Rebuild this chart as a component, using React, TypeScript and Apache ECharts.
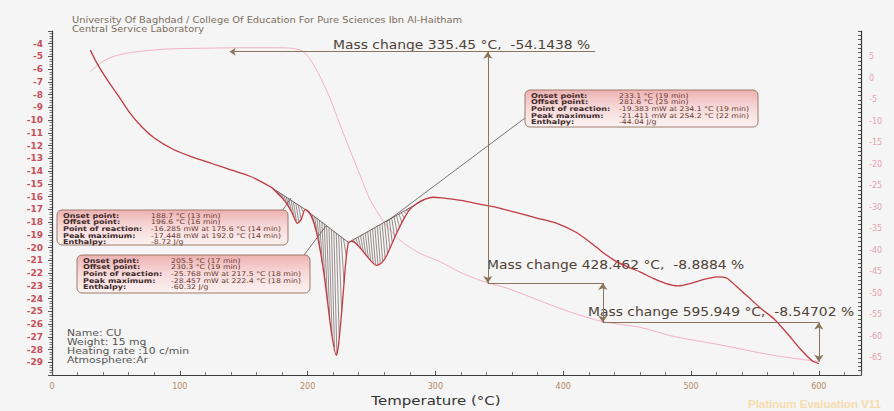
import React, { useEffect, useRef } from 'react';
import * as echarts from 'echarts';

// DSC curve (left axis, mW)
const dscTemps = [30, 35, 43, 52, 60, 70, 80, 95, 110, 125, 140, 155, 165, 172, 176, 180, 184, 188, 192, 195, 198, 201, 204, 207, 210, 213, 216, 219, 222.4, 224, 226, 228, 230, 232, 235, 240, 245, 250, 254, 258, 262, 266, 270, 275, 280, 286, 292, 298, 305, 320, 335, 350, 365, 380, 395, 410, 420, 430, 440, 450, 460, 470, 480, 490, 500, 510, 520, 528, 535, 545, 555, 565, 575, 585, 595, 600];
const dscValues = [-4.5, -5.5, -6.8, -8.1, -9.3, -10.5, -11.4, -12.3, -12.9, -13.4, -13.9, -14.4, -14.9, -15.3, -15.7, -16.1, -16.6, -17.3, -18.1, -17.8, -17.0, -17.2, -17.8, -18.8, -20.3, -22.2, -24.6, -26.9, -28.46, -27.8, -25.8, -23.4, -21.0, -19.6, -19.5, -19.9, -20.5, -21.1, -21.4, -21.2, -20.6, -19.7, -18.8, -17.8, -17.0, -16.5, -16.2, -16.05, -16.1, -16.3, -16.6, -16.9, -17.3, -17.7, -18.1, -18.8, -19.5, -20.3, -21.0, -21.5, -21.9, -22.4, -22.8, -23.0, -22.8, -22.5, -22.3, -22.4, -23.0, -23.9, -24.8, -25.6, -26.7, -27.9, -28.9, -29.1];

// TG curve (right axis, %)
const tgTemps = [30, 40, 53, 70, 90, 120, 150, 180, 194, 200, 205, 212, 218, 225, 233, 241, 249, 260, 272, 288, 304, 320, 340, 356, 384, 405, 431, 460, 486, 523, 562, 600];
const tgValues = [1.5, 4.0, 5.5, 6.3, 6.8, 7.0, 7.1, 7.1, 6.6, 5.2, 3.0, -1.0, -5.0, -10.5, -16.6, -22.5, -28.3, -33.5, -37.6, -40.7, -42.7, -45.2, -47.5, -48.8, -52.0, -54.3, -56.6, -57.9, -60.0, -62.0, -64.3, -65.9];

// hatched peak regions (temperature ranges)
const hatchStarts = [172, 198, 232];
const hatchEnds = [198, 232, 292];

// mass change annotations
const massLevels = [6.2, -47.6, -56.8, -65.9];
const levelLineStarts = [139, 341, 431];
const levelLineEnds = [425, 431, 600];
const stepTemps = [341, 431, 600];
const massTexts = [
  'Mass change 335.45 °C,  -54.1438 %',
  'Mass change 428.462 °C,  -8.8884 %',
  'Mass change 595.949 °C,  -8.54702 %',
];

// peak boxes
const boxLabels = ['Onset point:', 'Offset point:', 'Point of reaction:', 'Peak maximum:', 'Enthalpy:'];
const box1Values = ['188.7 °C (13 min)', '196.6 °C (16 min)', '-16.285 mW at 175.6 °C (14 min)', '-17.448 mW at 192.0 °C (14 min)', '-8.72 J/g'];
const box2Values = ['205.5 °C (17 min)', '230.3 °C (19 min)', '-25.768 mW at 217.5 °C (18 min)', '-28.457 mW at 222.4 °C (18 min)', '-60.32 J/g'];
const box3Values = ['233.1 °C (19 min)', '281.6 °C (25 min)', '-19.383 mW at 234.1 °C (19 min)', '-21.411 mW at 254.2 °C (22 min)', '-44.04 J/g'];

const headerLines = [
  'University Of Baghdad / College Of Education For Pure Sciences Ibn Al-Haitham',
  'Central Service Laboratory',
];
const sampleInfo = ['Name: CU', 'Weight: 15 mg', 'Heating rate :10 c/min', 'Atmosphere:Ar'];

const FONT = 'DejaVu Sans';

function txt(text: string, x: number, y: number, size: number, fill: string, scaleX: number, extra: any = {}) {
  return {
    type: 'text',
    x,
    y,
    scaleX,
    style: {
      text,
      x: 0,
      y: 0,
      fontSize: size,
      fontFamily: FONT,
      fill,
      textVerticalAlign: 'middle',
      verticalAlign: 'middle',
      ...extra,
    },
  };
}

function makeBox(x: number, y: number, w: number, h: number, values: string[]) {
  const children: any[] = [
    {
      type: 'rect',
      shape: { x, y, width: w, height: h, r: 5 },
      style: {
        fill: new echarts.graphic.LinearGradient(0, 0, 0, 1, [
          { offset: 0, color: '#eeb1b1' },
          { offset: 0.45, color: '#f6d7d7' },
          { offset: 1, color: '#fbf3f2' },
        ]),
        stroke: '#9c7a6a',
        lineWidth: 1,
      },
    },
  ];
  boxLabels.forEach((lab, i) => {
    const ty = y + 5.5 + i * 6.6;
    children.push(txt(lab, x + 6, ty, 6.6, '#3e2a2a', 1.22, { fontWeight: 'bold' }));
    children.push(txt(values[i], x + 94, ty, 6.6, '#6a3a32', 1.18));
  });
  return { type: 'group', children };
}

export default function App() {
  const ref = useRef<HTMLDivElement>(null);
  useEffect(() => {
    if (!ref.current) return;
    const chart = echarts.init(ref.current, null, { renderer: 'svg' });

    const graphicEls: any[] = [];
    headerLines.forEach((t, i) => {
      graphicEls.push(txt(t, 72, 20 + i * 8.7, 8.5, '#7d6e60', 1.16));
    });
    const massPos = [[333, 45], [487, 265], [588, 312]];
    massTexts.forEach((t, i) => {
      graphicEls.push(txt(t, massPos[i][0], massPos[i][1], 12.5, '#4e4236', 1.11));
    });
    sampleInfo.forEach((t, i) => {
      graphicEls.push(txt(t, 67, 333 + i * 9, 8.8, '#555555', 1.23));
    });
    graphicEls.push(txt('Temperature (°C)', 436, 400, 12.5, '#333333', 1.2, { textAlign: 'center', align: 'center' }));
    // leader lines
    const leaders = [
      [282, 211, 291, 198],
      [304, 255, 326, 226],
      [525, 118, 386, 222],
    ];
    leaders.forEach((l) => {
      graphicEls.push({ type: 'line', shape: { x1: l[0], y1: l[1], x2: l[2], y2: l[3] }, style: { stroke: '#5a5050', lineWidth: 0.8 } });
    });
    graphicEls.push(makeBox(57, 210, 231, 35, box1Values));
    graphicEls.push(makeBox(77, 255, 233, 38, box2Values));
    graphicEls.push(makeBox(525, 90, 233, 37, box3Values));
    graphicEls.push(txt('Platinum Evaluation V11', 748, 404, 11.5, '#f5dcae', 1.0, { fontWeight: 'bold', fontFamily: 'Liberation Sans' }));

    const markData: any[] = [];
    levelLineStarts.forEach((s, i) => {
      markData.push([
        { coord: [s, massLevels[i]], symbol: i === 0 ? 'arrow' : 'none', symbolSize: 6 },
        { coord: [levelLineEnds[i], massLevels[i]], symbol: 'none' },
      ]);
    });
    stepTemps.forEach((t, i) => {
      markData.push([
        { coord: [t, massLevels[i]], symbol: 'arrow', symbolSize: 7 },
        { coord: [t, massLevels[i + 1]], symbol: 'arrow', symbolSize: 7 },
      ]);
    });

    const option: any = {
      animation: false,
      backgroundColor: '#f4f5f4',
      textStyle: { fontFamily: FONT },
      grid: { left: 52, right: 33, top: 31, bottom: 36, containLabel: false },
      xAxis: {
        type: 'value',
        min: 0,
        max: 633,
        interval: 100,
        axisLine: { show: true, onZero: false, lineStyle: { color: '#3a3a3a', width: 1.2 } },
        axisTick: { show: true, inside: true, length: 4, lineStyle: { color: '#555' } },
        minorTick: { show: true, splitNumber: 5, length: 3, lineStyle: { color: '#777' } },
        splitLine: { show: false },
        axisLabel: {
          color: '#b58b63', fontSize: 8, fontFamily: FONT, margin: 7,
          formatter: (v: number) => (v % 100 === 0 ? String(v) : ''),
        },
      },
      yAxis: [
        {
          type: 'value',
          min: -30,
          max: -3,
          interval: 1,
          position: 'left',
          axisLine: { show: true, onZero: false, lineStyle: { color: '#3a3a3a', width: 1.2 } },
          axisTick: { show: true, length: 4, lineStyle: { color: '#555' } },
          minorTick: { show: true, splitNumber: 5, length: 2.5, lineStyle: { color: '#777' } },
          splitLine: { show: false },
          axisLabel: {
            color: '#c8505a', fontSize: 9, fontWeight: 'bold', fontFamily: FONT, margin: 9,
            formatter: (v: number) => (v >= -29 && v <= -4 ? String(v) : ''),
          },
        },
        {
          type: 'value',
          min: -69,
          max: 11,
          interval: 1,
          position: 'right',
          axisLine: { show: true, onZero: false, lineStyle: { color: '#3a3a3a', width: 1.2 } },
          axisTick: { show: true, inside: true, length: 3, lineStyle: { color: '#555' } },
          splitLine: { show: false },
          axisLabel: {
            color: '#e6a1b3', fontSize: 8, fontFamily: FONT, margin: 8,
            formatter: (v: number) => (v % 5 === 0 && v <= 5 && v >= -65 ? String(v) : ''),
          },
        },
      ],
      series: [
        {
          type: 'custom',
          name: 'hatch',
          xAxisIndex: 0,
          yAxisIndex: 0,
          data: hatchStarts.map((s, i) => [s, hatchEnds[i]]),
          encode: { x: 0, y: 1 },
          z: 3,
          renderItem: (params: any, api: any) => {
            const t0 = api.value(0);
            const t1 = api.value(1);
            const pts: number[][] = [];
            for (let i = 0; i < dscTemps.length; i++) {
              if (dscTemps[i] >= t0 && dscTemps[i] <= t1) pts.push(api.coord([dscTemps[i], dscValues[i]]));
            }
            if (pts.length < 2) return null;
            const a = pts[0];
            const b = pts[pts.length - 1];
            const curveY = (x: number) => {
              for (let k = 0; k < pts.length - 1; k++) {
                if (pts[k][0] <= x && x <= pts[k + 1][0]) {
                  const f = (x - pts[k][0]) / (pts[k + 1][0] - pts[k][0] || 1);
                  return pts[k][1] + f * (pts[k + 1][1] - pts[k][1]);
                }
              }
              return b[1];
            };
            const baseY = (x: number) => a[1] + ((x - a[0]) * (b[1] - a[1])) / (b[0] - a[0]);
            const children: any[] = [];
            const slant = 3;
            for (let x = a[0]; x + slant <= b[0]; x += 2.4) {
              const x2 = x + slant;
              const y1 = baseY(x);
              const y2 = curveY(x2);
              if (y2 - baseY(x2) > 1) {
                children.push({ type: 'line', shape: { x1: x, y1, x2, y2 }, style: { stroke: '#5a4444', lineWidth: 0.6 } });
              }
            }
            children.push({ type: 'line', shape: { x1: a[0], y1: a[1], x2: b[0], y2: b[1] }, style: { stroke: '#5a4444', lineWidth: 0.8 } });
            return { type: 'group', children };
          },
        },
        {
          type: 'line',
          name: 'TG',
          xAxisIndex: 0,
          yAxisIndex: 1,
          data: tgTemps.map((t, i) => [t, tgValues[i]]),
          symbol: 'none',
          smooth: 0.3,
          lineStyle: { color: '#f4b0c4', width: 1 },
          z: 2,
          markLine: {
            silent: true,
            animation: false,
            symbol: ['none', 'none'],
            label: { show: false },
            lineStyle: { color: '#8b735c', width: 1, type: 'solid' },
            data: markData,
          },
        },
        {
          type: 'line',
          name: 'DSC',
          xAxisIndex: 0,
          yAxisIndex: 0,
          data: dscTemps.map((t, i) => [t, dscValues[i]]),
          symbol: 'none',
          smooth: 0.2,
          lineStyle: { color: '#c23a42', width: 1.3 },
          z: 4,
        },
      ],
      graphic: { elements: graphicEls },
    };
    chart.setOption(option);
    return () => chart.dispose();
  }, []);
  return <div ref={ref} style={{ position: 'fixed', left: 0, top: 0, width: 894, height: 411 }} />;
}
